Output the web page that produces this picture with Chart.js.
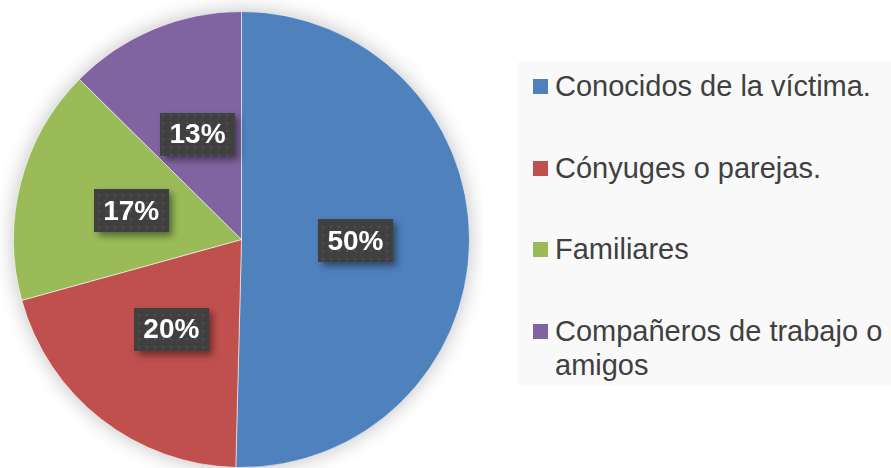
<!DOCTYPE html>
<html>
<head>
<meta charset="utf-8">
<script src="https://cdn.jsdelivr.net/npm/chart.js@4"></script>
<style>
    body { margin: 0; background: #fff; width: 891px; height: 468px; overflow: hidden; position: relative; }
    #pieBox { position: absolute; left: 0; top: 0; width: 483px; height: 468px; }
    #legend {
        position: absolute; left: 518px; top: 62px; width: 373px; height: 323px;
        background: #f9f9f9; box-sizing: border-box; padding: 7px 0 0 15px;
        font-family: "Liberation Sans", Arial, sans-serif; font-size: 29px; color: #404040;
    }
    .item { display: flex; align-items: flex-start; line-height: 34px; margin-bottom: 47.5px; }
    .item span.box { flex: 0 0 15px; height: 15px; margin-top: 10px; margin-right: 7px; }
</style>
</head>
<body>
<div id="pieBox"><canvas id="pieChart"></canvas></div>
<div id="legend"></div>
<script>
const categories = ['Conocidos de la víctima.', 'Cónyuges o parejas.', 'Familiares', 'Compañeros de trabajo o amigos'];
const values = [50.4, 20.3, 16.7, 12.6];
const colors = ['#4f81bd', '#c0504d', '#9bbb59', '#8064a2'];

// soft glow behind the whole pie
const pieShadow = {
    id: 'pieShadow',
    beforeDatasetsDraw(chart) {
        const arc = chart.getDatasetMeta(0).data[0];
        if (!arc) return;
        const ctx = chart.ctx;
        ctx.save();
        ctx.shadowColor = 'rgba(0,0,0,0.25)';
        ctx.shadowBlur = 20;
        ctx.fillStyle = '#fff';
        ctx.beginPath();
        ctx.arc(arc.x, arc.y, arc.outerRadius, 0, Math.PI * 2);
        ctx.fill();
        ctx.restore();
    }
};

function dotPattern(ctx) {
    const c = document.createElement('canvas');
    c.width = 8; c.height = 8;
    const p = c.getContext('2d');
    p.fillStyle = '#404040';
    p.fillRect(0, 0, 8, 8);
    p.fillStyle = '#515151';
    p.fillRect(2, 2, 2, 2);
    return ctx.createPattern(c, 'repeat');
}

// dark percentage boxes
const pctLabels = {
    id: 'pctLabels',
    afterDatasetsDraw(chart) {
        const ctx = chart.ctx;
        const data = chart.data.datasets[0].data;
        const total = data.reduce((a, b) => a + b, 0);
        const pat = dotPattern(ctx);
        ctx.save();
        ctx.font = 'bold 28px "Liberation Sans", Arial, sans-serif';
        chart.getDatasetMeta(0).data.forEach((arc, i) => {
            const txt = Math.round(data[i] / total * 100) + '%';
            const pos = arc.tooltipPosition();
            const w = ctx.measureText(txt).width + 19;
            const h = 43;
            const x = Math.round(pos.x - w / 2), y = Math.round(pos.y - h / 2);
            ctx.save();
            ctx.shadowColor = 'rgba(0,0,0,0.45)';
            ctx.shadowBlur = 7;
            ctx.shadowOffsetX = 4;
            ctx.shadowOffsetY = 4;
            ctx.fillStyle = '#404040';
            ctx.fillRect(x, y, w, h);
            ctx.restore();
            ctx.fillStyle = pat;
            ctx.fillRect(x, y, w, h);
            ctx.fillStyle = '#fff';
            ctx.textAlign = 'center';
            ctx.textBaseline = 'middle';
            ctx.fillText(txt, pos.x, pos.y + 1);
        });
        ctx.restore();
    }
};

const chart = new Chart(document.getElementById('pieChart'), {
    type: 'pie',
    data: {
        labels: categories,
        datasets: [{
            data: values,
            backgroundColor: colors,
            borderColor: 'rgba(255,255,255,0.55)',
            borderWidth: 1
        }]
    },
    options: {
        responsive: true,
        maintainAspectRatio: false,
        animation: false,
        layout: {padding: {left: 13, right: 13, top: 11, bottom: 0}},
        plugins: {
            legend: {display: false},
            tooltip: {enabled: false}
        }
    },
    plugins: [pieShadow, pctLabels]
});

// legend as html text
const legend = document.getElementById('legend');
categories.forEach((name, i) => {
    const row = document.createElement('div');
    row.className = 'item';
    const box = document.createElement('span');
    box.className = 'box';
    box.style.background = colors[i];
    const label = document.createElement('span');
    label.textContent = name;
    row.appendChild(box);
    row.appendChild(label);
    legend.appendChild(row);
});
</script>
</body>
</html>
